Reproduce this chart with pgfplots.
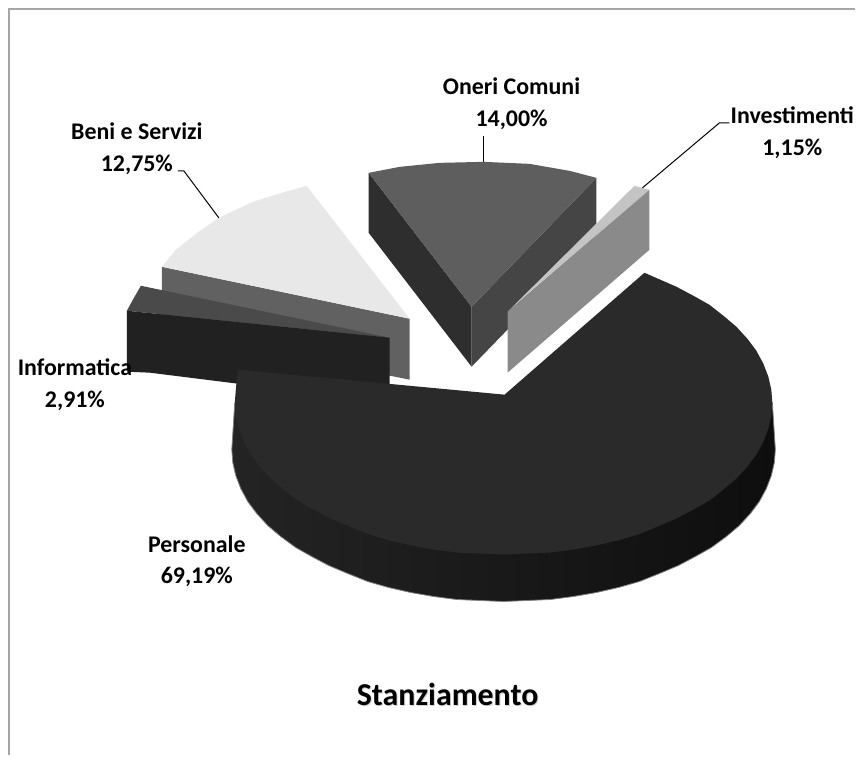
\documentclass[border=0pt]{standalone}
\usepackage{pgfplots}
\pgfplotsset{compat=1.18}
\usepackage{fontspec}
\setmainfont{Carlito}
\definecolor{beniTop}{gray}{0.91}
\definecolor{beniSide}{gray}{0.38}
\definecolor{infTop}{gray}{0.29}
\definecolor{infSide}{gray}{0.13}
\definecolor{oneriTop}{gray}{0.37}
\definecolor{oneriL}{gray}{0.18}
\definecolor{oneriR}{gray}{0.27}
\definecolor{invTop}{gray}{0.77}
\definecolor{invSide}{gray}{0.54}
\definecolor{persTop}{gray}{0.165}
\definecolor{persL}{gray}{0.14}
\definecolor{persR}{gray}{0.055}
\tikzset{
  lbl/.style={font=\bfseries\fontsize{24}{31.5}\selectfont,align=center,text=black,inner sep=0pt},
  face/.style={draw=none,fill=#1},
}
\begin{document}
\begin{tikzpicture}
\begin{axis}[
  scale only axis,
  width=856bp,height=756bp,
  xmin=0,xmax=856,ymin=0,ymax=756,
  y dir=reverse,
  hide axis,
  clip=false,
]
% frame
\addplot[draw=white,line width=0pt,forget plot] coordinates {(0,0) (856,756)};
\addplot[draw=gray!70,line width=1.5pt,forget plot] coordinates {(856,9) (9,9) (9,756)};
% Beni e Servizi
\addplot[face=beniSide,forget plot] coordinates {(162,267) (410,319) (410,380) (162,330)};
\addplot[face=beniTop,forget plot] coordinates {(162,267) (176,250) (196,234) (219,218) (253,202) (285,192) (307,186) (410,319)};
% Informatica
\addplot[face=infTop,forget plot] coordinates {(141,286) (133,300) (127,311) (390,338)};
\addplot[face=infSide,forget plot] coordinates {(127,311) (390,338) (390,390) (238,384) (150,373) (127,372)};
% Oneri Comuni
\addplot[face=oneriL,forget plot] coordinates {(369,173) (472,307) (472,367) (369,233)};
\addplot[face=oneriR,forget plot] coordinates {(472,307) (597,178) (597,238) (472,367)};
\addplot[face=oneriTop,forget plot] coordinates {(369,173) (400,167) (440,163) (484,162) (530,164) (570,171) (597,178) (472,307)};
% Investimenti
\addplot[face=invTop,forget plot] coordinates {(635,186) (650,190) (508,312)};
\addplot[face=invSide,forget plot] coordinates {(650,190) (650,250) (508,373) (508,312)};
% Personale: rim and top
\addplot[draw=gray,line width=0.8pt,left color=persL,right color=persR,forget plot] coordinates {
  (773,403) (776,450) (775,463) (772,476) (767,489) (760,502) (751,514) (740,526) (727,537) (712,548) (696,557) (679,566)
  (660,574) (640,582) (619,588) (597,593) (574,597) (551,600) (528,601) (504,602)
  (480,601) (457,600) (434,597) (411,593) (389,588) (368,582) (348,574) (329,566) (312,557) (296,548) (281,537)
  (268,526) (257,514) (248,502) (241,489) (236,476) (233,463) (232,450) (235,403)};
\addplot[face=persTop,forget plot] coordinates {
  (645,273) (677,287) (694,296) (710,305) (724,316) (737,327) (748,339) (757,351) (764,364) (769,377) (772,390) (773,403)
  (772,416) (769,429) (764,442) (757,455) (748,467) (737,479) (724,490) (710,501) (694,510) (677,519) (658,527)
  (639,535) (618,541) (596,546) (574,550) (551,553) (527,554) (504,555) (481,554) (457,553) (434,550) (412,546) (390,541) (370,535)
  (350,527) (331,519) (314,510) (298,501) (284,490) (271,479) (260,467) (251,455) (244,442) (239,429) (236,416)
  (235,403) (236,390) (238,370) (505,395)};
% leader lines
\addplot[black,line width=1pt,forget plot] coordinates {(178,171) (184,171) (219,218)};
\addplot[black,line width=1pt,forget plot] coordinates {(484,136) (484,162)};
\addplot[black,line width=1pt,forget plot] coordinates {(730,123) (720,123) (643,188)};
% labels
\node[lbl] at (axis cs:512,104) {Oneri Comuni\\14,00\%};
\node[lbl] at (axis cs:793,133) {Investimenti\\1,15\%};
\node[lbl] at (axis cs:137,149) {Beni e Servizi\\12,75\%};
\node[lbl] at (axis cs:75,385) {Informatica\\2,91\%};
\node[lbl] at (axis cs:197,562) {Personale\\69,19\%};
\node[font=\bfseries\fontsize{32}{38}\selectfont,text=gray!35] at (axis cs:449,696) {Stanziamento};
\node[font=\bfseries\fontsize{32}{38}\selectfont] at (axis cs:448,695) {Stanziamento};
\end{axis}
\end{tikzpicture}
\end{document}
